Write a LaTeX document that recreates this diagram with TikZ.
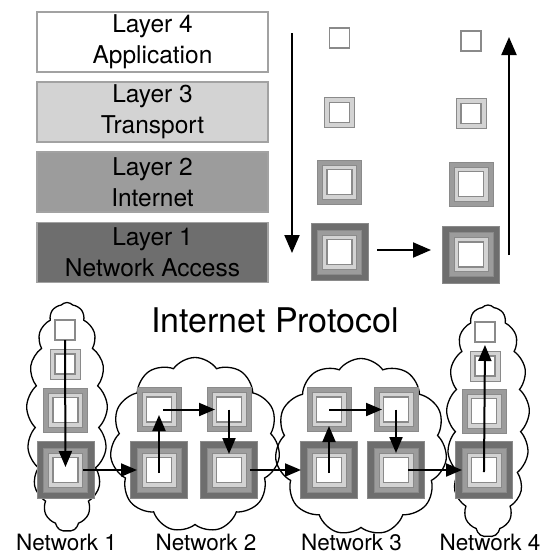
\documentclass[tikz,border=0pt]{standalone}
\usepackage{fontspec}
\setmainfont{TeX Gyre Heros}
\usetikzlibrary{shapes.symbols,arrows.meta}
\definecolor{cdark}{HTML}{6E6E6E}
\definecolor{cmed}{HTML}{9C9C9C}
\definecolor{clight}{HTML}{D3D3D3}
\definecolor{cline}{HTML}{8A8A8A}
\definecolor{cbord}{HTML}{A2A2A2}
\tikzset{
  sq/.style={shape=rectangle, draw=cline, line width=0.7pt, inner sep=0pt, outer sep=0pt},
  wsq/.style={sq, fill=white, line width=1.5pt, minimum size=#1},
  pktA/.pic={
    \node[sq, fill=cdark, minimum size=57pt] (-o) {};
    \node[sq, fill=cmed, minimum size=44pt] (-m) {};
    \node[sq, fill=clight, minimum size=34pt] (-l) {};
    \node[wsq=25pt] (-i) {};},
  pktB/.pic={
    \node[sq, fill=cmed, minimum size=44pt] (-o) {};
    \node[sq, fill=clight, minimum size=34pt] (-l) {};
    \node[wsq=25pt] (-i) {};},
  pktC/.pic={
    \node[sq, fill=clight, minimum size=30pt] (-o) {};
    \node[wsq=20pt] (-i) {};},
  pktD/.pic={
    \node[wsq=20pt] (-o) {};},
  layerbox/.style={shape=rectangle, draw=cbord, line width=1.2pt, minimum width=231pt, minimum height=60pt, inner sep=0pt, align=center, font=\fontsize{24.5pt}{31pt}\selectfont},
  netcloud/.style={cloud, draw=black, line width=1.3pt, inner sep=0pt},
  arr/.style={line width=2pt, -{Triangle[length=16pt,width=13pt]}},
  bigarr/.style={line width=2pt, -{Triangle[length=18pt,width=15pt]}},
  netlab/.style={anchor=base, font=\fontsize{22.5pt}{27pt}\selectfont, inner sep=0pt},
}
\begin{document}
\begin{tikzpicture}[x=1pt,y=-1pt]
\useasboundingbox (0,0) rectangle (546,554);
% layer boxes
\node[layerbox, fill=white]  (ly4) at (152.5,42)  {Layer 4\\Application};
\node[layerbox, fill=clight] (ly3) at (152.5,112) {Layer 3\\Transport};
\node[layerbox, fill=cmed]   (ly2) at (152.5,182) {Layer 2\\Internet};
\node[layerbox, fill=cdark]  (ly1) at (152.5,252.5) {Layer 1\\Network Access};
% top stacks
\pic (t1d) at (339.5,38) {pktD};
\pic (t1c) at (339.5,112.5) {pktC};
\pic (t1b) at (339.5,182) {pktB};
\pic (t1a) at (339.5,252) {pktA};
\pic (t2d) at (471,41) {pktD};
\pic (t2c) at (471,113.5) {pktC};
\pic (t2b) at (471,184) {pktB};
\pic (t2a) at (471,254.5) {pktA};
\coordinate (dtop) at (292,33);
\coordinate (dbot) at (292,253);
\coordinate (utop) at (509,37);
\coordinate (ubot) at (509,255);
\coordinate (hs) at (377,250);
\coordinate (he) at (431,250);
\draw[bigarr] (dtop) -- (dbot);
\draw[bigarr] (ubot) -- (utop);
\draw[bigarr] (hs) -- (he);
% title
\node[anchor=base, inner sep=0pt, font=\fontsize{34pt}{40pt}\selectfont] (title) at (275,332) {Internet Protocol};
% clouds
\node[netcloud, cloud puffs=17, cloud puff arc=95, minimum width=81pt, minimum height=229pt] (cl1) at (67,417) {};
\node[netcloud, cloud puffs=11, cloud puff arc=110, minimum width=170pt, minimum height=175pt] (cl2) at (195,445) {};
\node[netcloud, cloud puffs=11, cloud puff arc=110, minimum width=172pt, minimum height=177pt] (cl3) at (361,447) {};
\node[netcloud, cloud puffs=17, cloud puff arc=95, minimum width=83pt, minimum height=232pt] (cl4) at (488,421) {};
% bottom packets
\pic (n1d) at (65,330) {pktD};
\pic (n1c) at (65,364) {pktC};
\pic (n1b) at (65.5,410) {pktB};
\pic (n1a) at (65.5,470) {pktA};
\pic (n2a) at (159,470) {pktA};
\pic (n2b) at (159,409.5) {pktB};
\pic (n2c) at (229,409.5) {pktB};
\pic (n2d) at (229,470) {pktA};
\pic (n3a) at (329,470) {pktA};
\pic (n3b) at (329,409.5) {pktB};
\pic (n3c) at (396,409.5) {pktB};
\pic (n3d) at (396,470) {pktA};
\pic (n4a) at (484,470) {pktA};
\pic (n4b) at (484,411) {pktB};
\pic (n4c) at (485,366) {pktC};
\pic (n4d) at (485,332) {pktD};
% bottom arrows
\draw[arr, shorten >=3pt] (n1d-o.south) -- (n1a-o.center);
\draw[arr, shorten <=17.5pt, shorten >=22pt] (n1a-o.center) -- (n2a-o.center);
\draw[arr, shorten <=-3pt, shorten >=5.5pt] (n2a-o.center) -- (n2b-o.center);
\draw[arr, shorten <=4pt, shorten >=14pt] (n2b-o.center) -- (n2c-o.center);
\draw[arr, shorten >=16pt] (n2c-o.center) -- (n2d-o.center);
\draw[arr, shorten <=21pt, shorten >=28pt] (n2d-o.center) -- (n3a-o.center);
\draw[arr, shorten <=-3pt, shorten >=16.5pt] (n3a-o.center) -- (n3b-o.center);
\draw[arr, shorten >=14pt] (n3b-o.center) -- (n3c-o.center);
\draw[arr, shorten >=17pt] (n3c-o.center) -- (n3d-o.center);
\draw[arr, shorten <=12pt, shorten >=22pt] (n3d-o.center) -- (n4a-o.center);
\draw[arr, shorten <=-2pt, shorten >=3pt] (n4a-o.center) -- (n4d-o.south);
% labels
\node[netlab] (lab1) at (66.5,550) {Network 1};
\node[netlab] (lab2) at (206,550) {Network 2};
\node[netlab] (lab3) at (351.5,550) {Network 3};
\node[netlab] (lab4) at (490,550) {Network 4};
\end{tikzpicture}
\end{document}
